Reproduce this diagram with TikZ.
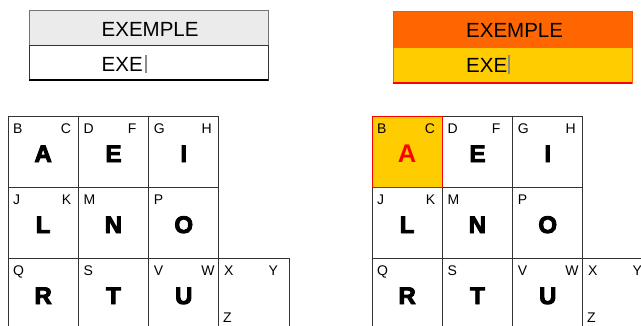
\documentclass[tikz,border=0pt]{standalone}
\usepackage{fontspec}
\setmainfont{Liberation Sans}
\newfontfamily\heavyfont[BoldFeatures={FakeBold=4}]{Liberation Sans}
\newfontfamily\plainheavy{Liberation Sans}
\definecolor{hdrgray}{HTML}{EBEBEB}
\definecolor{orng}{HTML}{FF6600}
\definecolor{yel}{HTML}{FFCC00}
\definecolor{gridc}{HTML}{333333}
\newcommand\gcell[9]{%
  \node[cellbox,#8] (#1) at (#2+35.15,#3+35.5) {};
  \node[smalllbl,anchor=base west] (#1tl) at (#2+5,#3+17) {#4};
  \node[smalllbl,anchor=base east] (#1tr) at (#2+70.3-#7,#3+17) {#5};
  \node[biglbl,anchor=base,#9] (#1big) at (#2+35.15,#3+46) {#6};
}
\begin{document}
\begin{tikzpicture}[x=1pt,y=-1pt,
  smalllbl/.style={font=\fontsize{14}{14}\selectfont,inner sep=0pt},
  biglbl/.style={font=\heavyfont\fontsize{24}{24}\selectfont\bfseries,inner sep=0pt},
  redlbl/.style={font=\plainheavy\fontsize{25.5}{25.5}\selectfont\bfseries,text=red},
  boxtext/.style={font=\fontsize{20.5}{21}\selectfont,inner sep=0pt},
  cellbox/.style={draw=gridc,line width=0.9pt,minimum width=70.3pt,minimum height=71pt,inner sep=0pt,outer sep=0pt},
  bar/.style={draw=black!45,line width=1.3pt}]
\useasboundingbox (0,0) rectangle (641,325);
\clip (0,0) rectangle (641,325);
% left input box
\node[draw=black!55,fill=hdrgray,line width=0.9pt,minimum width=239pt,minimum height=35pt,anchor=north west,inner sep=0pt,outer sep=0pt] (lhead) at (29,10) {};
\node[draw=gridc,fill=white,line width=0.9pt,minimum width=239pt,minimum height=35pt,anchor=north west,inner sep=0pt,outer sep=0pt] (lbody) at (29,45) {};
\draw[line width=1.6pt] (lbody.south west) -- (lbody.south east);
\node[boxtext,anchor=base west] (lt1) at (101.5,36) {EXEMPLE};
\node[boxtext,anchor=base west] (lt2) at (101.5,71.7) {EXE};
\draw[bar] (146,55) -- (146,72.5);
% right input box
\node[draw=orng!80!red,fill=orng,line width=0.9pt,minimum width=239pt,minimum height=36.7pt,anchor=north west,inner sep=0pt,outer sep=0pt] (rhead) at (393,11) {};
\node[draw=orng,fill=yel,line width=0.9pt,minimum width=239pt,minimum height=35.3pt,anchor=north west,inner sep=0pt,outer sep=0pt] (rbody) at (393,47.7) {};
\draw[red,line width=1.6pt] (rbody.south west) -- (rbody.south east);
\node[boxtext,anchor=base west] (rt1) at (466,37.3) {EXEMPLE};
\node[boxtext,anchor=base west] (rt2) at (466,72.7) {EXE};
\draw[bar] (509,55) -- (509,73.5);
% left grid
\gcell{la}{8}{116}{B}{C}{A}{7}{}{}
\gcell{le}{78.3}{116}{D}{F}{E}{12}{}{}
\gcell{li}{148.6}{116}{G}{H}{I}{7}{}{}
\gcell{ll}{8}{187}{J}{K}{L}{7}{}{}
\gcell{ln}{78.3}{187}{M}{}{N}{7}{}{}
\gcell{lo}{148.6}{187}{P}{}{O}{7}{}{}
\gcell{lr}{8}{258}{Q}{}{R}{7}{}{}
\gcell{lt}{78.3}{258}{S}{}{T}{7}{}{}
\gcell{lu}{148.6}{258}{V}{W}{U}{4}{}{}
\gcell{lx}{218.9}{258}{X}{Y}{}{11}{}{}
\node[smalllbl,anchor=base west] (lz) at (223,322) {Z};
% right grid
\gcell{re}{442.3}{116}{D}{F}{E}{12}{}{}
\gcell{ri}{512.6}{116}{G}{H}{I}{7}{}{}
\gcell{rl}{372}{187}{J}{K}{L}{7}{}{}
\gcell{rn}{442.3}{187}{M}{}{N}{7}{}{}
\gcell{ro}{512.6}{187}{P}{}{O}{7}{}{}
\gcell{rr}{372}{258}{Q}{}{R}{7}{}{}
\gcell{rt}{442.3}{258}{S}{}{T}{7}{}{}
\gcell{ru}{512.6}{258}{V}{W}{U}{4}{}{}
\gcell{rx}{582.9}{258}{X}{Y}{}{11}{}{}
\node[smalllbl,anchor=base west] (rz) at (587,322) {Z};
\gcell{ra}{372}{116}{B}{C}{A}{7}{fill=yel,draw=red}{redlbl}
\end{tikzpicture}
\end{document}
